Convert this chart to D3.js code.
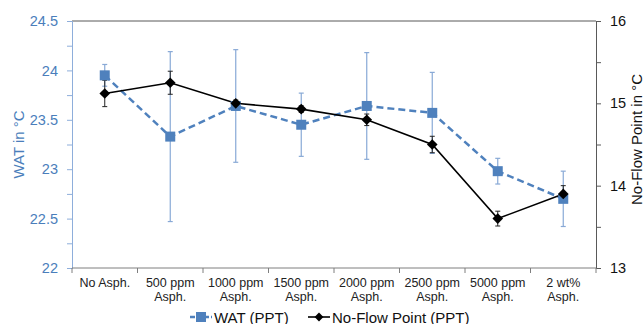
<!DOCTYPE html>
<html><head><meta charset="utf-8">
<script src="https://cdn.jsdelivr.net/npm/d3@7"></script>
<style>
html,body{margin:0;padding:0;background:#fff;}
text{font-family:"Liberation Sans",Arial,sans-serif;}
</style></head>
<body><svg id="c" width="644" height="324"></svg>
<script>
const categories = ["No Asph.", "500 ppm\nAsph.", "1000 ppm\nAsph.", "1500 ppm\nAsph.", "2000 ppm\nAsph.", "2500 ppm\nAsph.", "5000 ppm\nAsph.", "2 wt%\nAsph."];
const watValues = [23.95, 23.33, 23.64, 23.45, 23.64, 23.57, 22.98, 22.70];
const watErrors = [0.11, 0.86, 0.57, 0.32, 0.54, 0.41, 0.13, 0.28];
const nfpValues = [15.12, 15.25, 15.00, 14.93, 14.80, 14.50, 13.60, 13.90];
const nfpErrors = [0.16, 0.14, 0.04, 0.04, 0.07, 0.10, 0.09, 0.10];
const leftTicks = [22, 22.5, 23, 23.5, 24, 24.5];
const leftMinor = [22.25, 22.75, 23.25, 23.75, 24.25];
const rightTicks = [13, 14, 15, 16];
const rightMinor = [13.5, 14.5, 15.5];
const seriesNames = ["WAT (PPT)", "No-Flow Point (PPT)"];

const blue = "#4f81bd", blueErr = "#88a9d6", black = "#000";
const L = 72, R = 596, T = 21, B = 268;
const svg = d3.select("#c");
const x = d3.scaleBand().domain(categories).range([L, R]).padding(0);
const yL = d3.scaleLinear().domain([22, 24.5]).range([B, T]);
const yR = d3.scaleLinear().domain([13, 16]).range([B, T]);
const cx = c => x(c) + x.bandwidth() / 2;

// top border
svg.append("line").attr("x1", L).attr("x2", R).attr("y1", T).attr("y2", T).attr("stroke", "#595959").attr("stroke-width", 1);

// left axis
const gl = svg.append("g").attr("transform", `translate(${L},0)`)
  .call(d3.axisLeft(yL).tickValues(leftTicks).tickSize(5).tickPadding(9).tickFormat(d => String(d)));
gl.select(".domain").attr("stroke", "#8eaedb");
gl.selectAll(".tick line").attr("stroke", "#8eaedb");
gl.selectAll(".tick text").attr("fill", "#4a7ebb").style("font-size", "14.5px");
const glm = svg.append("g").attr("transform", `translate(${L},0)`)
  .call(d3.axisLeft(yL).tickValues(leftMinor).tickSize(5).tickFormat(""));
glm.select(".domain").remove();
glm.selectAll(".tick line").attr("stroke", "#8eaedb");

// right axis
const gr = svg.append("g").attr("transform", `translate(${R},0)`)
  .call(d3.axisRight(yR).tickValues(rightTicks).tickSize(5).tickPadding(9).tickFormat(d => String(d)));
gr.select(".domain").attr("stroke", "#595959");
gr.selectAll(".tick line").attr("stroke", "#595959");
gr.selectAll(".tick text").attr("fill", "#111").style("font-size", "14.5px");
const grm = svg.append("g").attr("transform", `translate(${R},0)`)
  .call(d3.axisRight(yR).tickValues(rightMinor).tickSize(5).tickFormat(""));
grm.select(".domain").remove();
grm.selectAll(".tick line").attr("stroke", "#595959");

// bottom axis
svg.append("line").attr("x1", L).attr("x2", R).attr("y1", B).attr("y2", B).attr("stroke", "#7f7f7f");
const edges = categories.map(c => x(c)).concat([R]);
svg.append("g").selectAll("line").data(edges).join("line")
  .attr("x1", d => d).attr("x2", d => d).attr("y1", B).attr("y2", B + 5).attr("stroke", "#7f7f7f");
const xl = svg.append("g").selectAll("text").data(categories).join("text")
  .attr("x", d => cx(d)).attr("y", 287).attr("text-anchor", "middle")
  .attr("fill", "#222").style("font-size", "12.5px");
xl.each(function(d) {
  const lines = d.split("\n");
  d3.select(this).selectAll("tspan").data(lines).join("tspan")
    .attr("x", cx(d)).attr("dy", (l, i) => i === 0 ? 0 : 14).text(l => l);
});

// axis titles
svg.append("text").attr("transform", `translate(24,${(T + B) / 2}) rotate(-90)`)
  .attr("text-anchor", "middle").attr("fill", "#4a7ebb").style("font-size", "15px").text("WAT in °C");
svg.append("text").attr("transform", `translate(642,${(T + B) / 2 - 5}) rotate(-90)`)
  .attr("text-anchor", "middle").attr("fill", "#111").style("font-size", "15px").text("No-Flow Point in °C");

// WAT error bars
const we = svg.append("g");
categories.forEach((c, i) => {
  const X = cx(c), y1 = yL(watValues[i] + watErrors[i]), y2 = yL(watValues[i] - watErrors[i]);
  we.append("line").attr("x1", X).attr("x2", X).attr("y1", y1).attr("y2", y2).attr("stroke", blueErr).attr("stroke-width", 1.2);
  [y1, y2].forEach(yy => we.append("line").attr("x1", X - 2.5).attr("x2", X + 2.5).attr("y1", yy).attr("y2", yy).attr("stroke", blueErr).attr("stroke-width", 1.2));
});
// NFP error bars
const ne = svg.append("g");
categories.forEach((c, i) => {
  const X = cx(c), y1 = yR(nfpValues[i] + nfpErrors[i]), y2 = yR(nfpValues[i] - nfpErrors[i]);
  ne.append("line").attr("x1", X).attr("x2", X).attr("y1", y1).attr("y2", y2).attr("stroke", "#222").attr("stroke-width", 1);
  [y1, y2].forEach(yy => ne.append("line").attr("x1", X - 2.5).attr("x2", X + 2.5).attr("y1", yy).attr("y2", yy).attr("stroke", "#222").attr("stroke-width", 1));
});

// lines
const watLine = d3.line().x((d, i) => cx(categories[i])).y(d => yL(d));
const nfpLine = d3.line().x((d, i) => cx(categories[i])).y(d => yR(d));
svg.append("path").datum(watValues).attr("d", watLine).attr("fill", "none").attr("stroke", blue).attr("stroke-width", 2.5).attr("stroke-dasharray", "7,4");
svg.append("path").datum(nfpValues).attr("d", nfpLine).attr("fill", "none").attr("stroke", black).attr("stroke-width", 1.6);

// markers
svg.append("g").selectAll("rect").data(watValues).join("rect")
  .attr("x", (d, i) => cx(categories[i]) - 5).attr("y", d => yL(d) - 5)
  .attr("width", 10).attr("height", 10).attr("fill", blue);
const diamond = d3.symbol().type(d3.symbolDiamond2).size(72);
svg.append("g").selectAll("path").data(nfpValues).join("path")
  .attr("d", diamond).attr("transform", (d, i) => `translate(${cx(categories[i])},${yR(d)})`).attr("fill", black);

// legend
const ly = 317;
const lg = svg.append("g");
lg.append("line").attr("x1", 190).attr("x2", 212).attr("y1", ly).attr("y2", ly).attr("stroke", blue).attr("stroke-width", 2.5).attr("stroke-dasharray", "5,2");
lg.append("rect").attr("x", 196).attr("y", ly - 5).attr("width", 10).attr("height", 10).attr("fill", blue);
lg.append("text").attr("x", 214).attr("y", ly + 5.5).style("font-size", "15px").attr("fill", "#111").text(seriesNames[0]);
lg.append("line").attr("x1", 308).attr("x2", 330).attr("y1", ly).attr("y2", ly).attr("stroke", black).attr("stroke-width", 1.6);
lg.append("path").attr("d", d3.symbol().type(d3.symbolDiamond2).size(50)).attr("transform", `translate(319,${ly})`).attr("fill", black);
lg.append("text").attr("x", 332).attr("y", ly + 5.5).style("font-size", "15px").attr("fill", "#111").text(seriesNames[1]);
</script>
</body></html>
